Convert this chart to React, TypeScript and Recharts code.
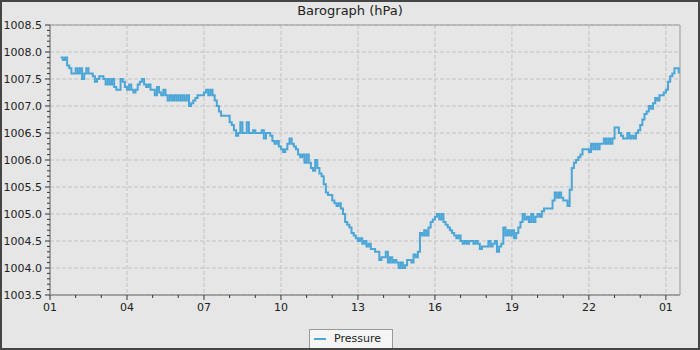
import React from "react";
import { LineChart, Line, XAxis, YAxis, CartesianGrid, ReferenceArea } from "recharts";

// Readings every 5 minutes, first one at 01:25 (hours counted from 01:00)
const firstReadingHour = 25 / 60;
const readingStepHours = 5 / 60;

const pressureNight: number[] = [
  // 01:25 - 01:55
  1007.9, 1007.85, 1007.9, 1007.75, 1007.7, 1007.6, 1007.6,
  // 02
  1007.7, 1007.6, 1007.7, 1007.5, 1007.6, 1007.7, 1007.6, 1007.6, 1007.55, 1007.45, 1007.5, 1007.55,
  // 03
  1007.55, 1007.5, 1007.4, 1007.5, 1007.4, 1007.5, 1007.35, 1007.3, 1007.3, 1007.5, 1007.45, 1007.35,
  // 04
  1007.3, 1007.4, 1007.3, 1007.25, 1007.3, 1007.4, 1007.45, 1007.5, 1007.4, 1007.35, 1007.4, 1007.3,
  // 05
  1007.3, 1007.2, 1007.35, 1007.25, 1007.2, 1007.3, 1007.2, 1007.1, 1007.2, 1007.1, 1007.2, 1007.1,
  // 06
  1007.2, 1007.1, 1007.2, 1007.1, 1007.2, 1007.0, 1007.05, 1007.1, 1007.15, 1007.2, 1007.2, 1007.2,
];

const pressureMorning: number[] = [
  // 07
  1007.25, 1007.3, 1007.2, 1007.3, 1007.2, 1007.1, 1007.0, 1006.9, 1006.82, 1006.82, 1006.82, 1006.82,
  // 08
  1006.7, 1006.65, 1006.55, 1006.45, 1006.5, 1006.7, 1006.5, 1006.5, 1006.7, 1006.5, 1006.5, 1006.55,
  // 09
  1006.5, 1006.5, 1006.5, 1006.55, 1006.4, 1006.5, 1006.5, 1006.45, 1006.35, 1006.3, 1006.35, 1006.25,
  // 10
  1006.2, 1006.15, 1006.2, 1006.3, 1006.4, 1006.3, 1006.25, 1006.2, 1006.1, 1006.05, 1006.1, 1005.95,
  // 11
  1006.1, 1005.95, 1005.85, 1005.8, 1006.0, 1005.85, 1005.75, 1005.7, 1005.55, 1005.4, 1005.35, 1005.35,
  // 12
  1005.25, 1005.2, 1005.15, 1005.2, 1005.1, 1005.0, 1004.85, 1004.8, 1004.75, 1004.65, 1004.6, 1004.55,
];

const pressureAfternoon: number[] = [
  // 13
  1004.5, 1004.55, 1004.45, 1004.5, 1004.4, 1004.45, 1004.35, 1004.35, 1004.3, 1004.3, 1004.15, 1004.2,
  // 14
  1004.2, 1004.3, 1004.1, 1004.2, 1004.1, 1004.15, 1004.1, 1004.0, 1004.1, 1004.0, 1004.05, 1004.15,
  // 15
  1004.15, 1004.1, 1004.25, 1004.2, 1004.3, 1004.65, 1004.6, 1004.7, 1004.6, 1004.75, 1004.85, 1004.9,
  // 16
  1004.95, 1005.0, 1004.9, 1005.0, 1004.85, 1004.8, 1004.75, 1004.7, 1004.65, 1004.6, 1004.55, 1004.6,
  // 17
  1004.5, 1004.45, 1004.5, 1004.45, 1004.5, 1004.5, 1004.45, 1004.5, 1004.45, 1004.35, 1004.4, 1004.4,
  // 18
  1004.4, 1004.5, 1004.4, 1004.45, 1004.5, 1004.3, 1004.4, 1004.45, 1004.75, 1004.6, 1004.7, 1004.6,
];

const pressureEvening: number[] = [
  // 19
  1004.7, 1004.55, 1004.65, 1004.75, 1004.85, 1005.0, 1004.9, 1004.95, 1004.85, 1005.0, 1004.85, 1004.95,
  // 20
  1005.0, 1004.95, 1005.05, 1005.1, 1005.1, 1005.1, 1005.1, 1005.25, 1005.4, 1005.3, 1005.4, 1005.3,
  // 21
  1005.25, 1005.25, 1005.15, 1005.45, 1005.85, 1005.95, 1006.0, 1006.05, 1006.1, 1006.2, 1006.2, 1006.2,
  // 22
  1006.15, 1006.3, 1006.2, 1006.3, 1006.2, 1006.3, 1006.3, 1006.4, 1006.3, 1006.4, 1006.3, 1006.4,
  // 23
  1006.6, 1006.6, 1006.5, 1006.45, 1006.4, 1006.4, 1006.5, 1006.4, 1006.45, 1006.4, 1006.5, 1006.55,
  // 00
  1006.65, 1006.75, 1006.85, 1006.9, 1007.0, 1006.95, 1007.05, 1007.15, 1007.1, 1007.2, 1007.2, 1007.25,
  // 01 (next day) 01:00 - 01:30
  1007.3, 1007.45, 1007.55, 1007.6, 1007.7, 1007.7, 1007.6,
];

const hourTicks: number[] = [0, 1, 2, 3, 4, 5, 6, 7, 8, 9, 10, 11, 12, 13, 14, 15, 16, 17, 18, 19, 20, 21, 22, 23, 24];
const majorHourTicks: number[] = [0, 3, 6, 9, 12, 15, 18, 21, 24];
const xTickLabels: string[] = ["01", "04", "07", "10", "13", "16", "19", "22", "01"];
const yMajorTicks: number[] = [1003.5, 1004.0, 1004.5, 1005.0, 1005.5, 1006.0, 1006.5, 1007.0, 1007.5, 1008.0, 1008.5];
const yAllTicks: number[] = Array.from({ length: 51 }, (_, i) => Math.round((1003.5 + i * 0.1) * 10) / 10);

const title = "Barograph (hPa)";
const seriesName = "Pressure";

const pressureAll = [...pressureNight, ...pressureMorning, ...pressureAfternoon, ...pressureEvening];
const data = pressureAll.map((p, i) => ({ h: firstReadingHour + i * readingStepHours, p }));

const FONT = "'DejaVu Sans', Verdana, sans-serif";
const LINE_COLOR = "#4ba6d7";

const XTick = (props: any) => {
  const { x, y, payload } = props;
  const idx = majorHourTicks.indexOf(payload.value);
  const major = idx >= 0;
  return (
    <g>
      <line x1={x} x2={x} y1={y} y2={y + (major ? 5 : 3)} stroke="#333" strokeWidth={1} />
      {major && (
        <text x={x} y={y + 8} dy="0.71em" textAnchor="middle" fontSize={11} fill="#222" fontFamily={FONT}>
          {xTickLabels[idx]}
        </text>
      )}
    </g>
  );
};

const YTick = (props: any) => {
  const { x, y, payload } = props;
  const v = payload.value as number;
  const major = yMajorTicks.some((t) => Math.abs(t - v) < 1e-6);
  return (
    <g>
      <line x1={x - (major ? 5 : 3)} x2={x} y1={y} y2={y} stroke="#333" strokeWidth={1} />
      {major && (
        <text x={x - 8} y={y} dy="0.355em" textAnchor="end" fontSize={11} fill="#222" fontFamily={FONT}>
          {v.toFixed(1)}
        </text>
      )}
    </g>
  );
};

export default function App() {
  return (
    <div style={{ position: "absolute", left: 0, top: 0, width: 700, height: 350, background: "#e6e6e6", overflow: "hidden" }}>
      <div
        style={{
          position: "absolute",
          left: 0,
          top: 3,
          width: 700,
          textAlign: "center",
          fontFamily: FONT,
          fontSize: 13,
          lineHeight: "16px",
          color: "#222",
        }}
      >
        {title}
      </div>
      <div style={{ position: "absolute", left: 0, top: 0 }}>
        <LineChart width={700} height={350} data={data} margin={{ top: 25, right: 20, left: 0, bottom: 0 }}>
          <CartesianGrid
            stroke="#c2c2c2"
            strokeDasharray="4 2"
            horizontalValues={yMajorTicks}
            verticalValues={majorHourTicks}
          />
          <ReferenceArea x1={0} x2={24.55} y1={1003.5} y2={1008.5} fill="none" stroke="#999" strokeWidth={1} ifOverflow="visible" />
          <XAxis
            dataKey="h"
            type="number"
            domain={[0, 24.55]}
            ticks={hourTicks}
            interval={0}
            height={55}
            tickSize={0}
            tickMargin={0}
            tickLine={false}
            axisLine={{ stroke: "#888" }}
            tick={<XTick />}
            allowDataOverflow
          />
          <YAxis
            type="number"
            domain={[1003.5, 1008.5]}
            ticks={yAllTicks}
            interval={0}
            width={50}
            tickSize={0}
            tickMargin={0}
            tickLine={false}
            axisLine={{ stroke: "#888" }}
            tick={<YTick />}
            allowDataOverflow
          />
          <Line
            type="stepAfter"
            dataKey="p"
            name={seriesName}
            stroke={LINE_COLOR}
            strokeWidth={2}
            dot={false}
            isAnimationActive={false}
          />
        </LineChart>
      </div>
      <div
        style={{
          position: "absolute",
          left: 309,
          top: 329,
          width: 84,
          height: 20,
          boxSizing: "border-box",
          border: "1px solid #999",
          background: "#f5f5f5",
        }}
      >
        <div style={{ position: "absolute", left: 4, top: 8, width: 12, height: 2, background: LINE_COLOR }} />
        <div
          style={{
            position: "absolute",
            left: 24,
            top: 2,
            fontFamily: FONT,
            fontSize: 11,
            lineHeight: "14px",
            color: "#222",
          }}
        >
          {seriesName}
        </div>
      </div>
      <div
        style={{
          position: "absolute",
          left: 0,
          top: 0,
          width: 700,
          height: 350,
          boxSizing: "border-box",
          border: "2px solid #454545",
          pointerEvents: "none",
        }}
      />
    </div>
  );
}
